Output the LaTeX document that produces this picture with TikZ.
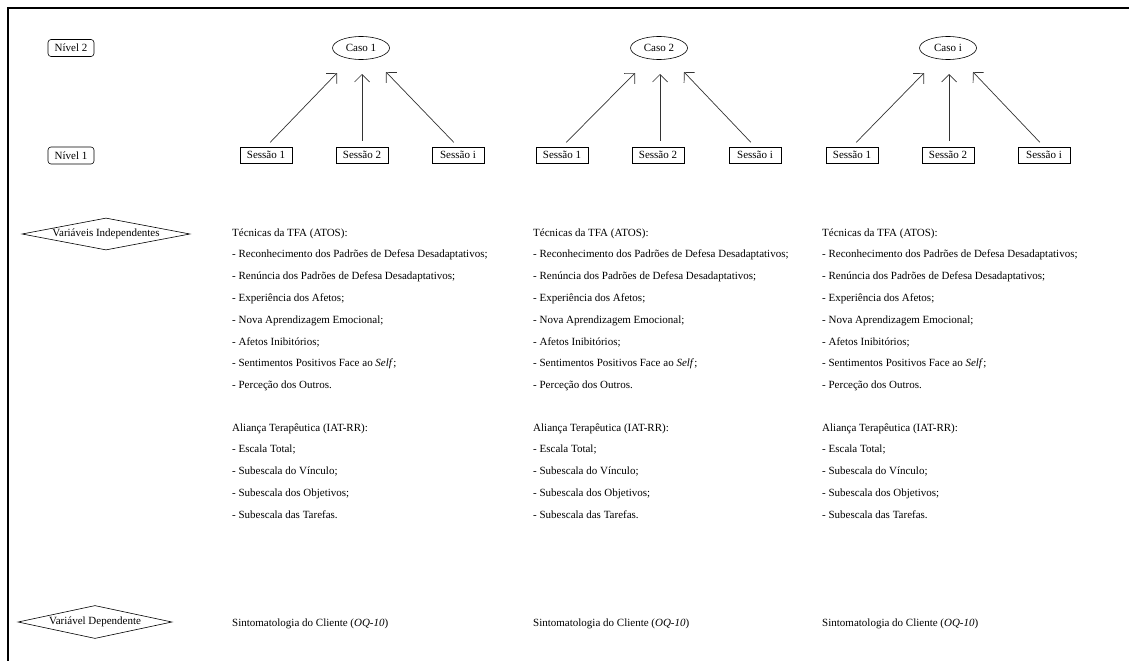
\documentclass[tikz,border=0pt]{standalone}
\usepackage{fontspec}
\setmainfont{Liberation Serif}
\usetikzlibrary{shapes.geometric,arrows.meta,calc}
\tikzset{
  fnt/.style={font=\fontsize{11}{13}\selectfont},
  lvl/.style={draw=black, line width=0.6pt, rounded corners=3pt, minimum width=46pt, minimum height=17pt, inner sep=0pt, fnt},
  caso/.style={draw=black, line width=0.6pt, ellipse, minimum width=57pt, minimum height=23pt, inner sep=0pt, fnt},
  sess/.style={draw=black, line width=0.6pt, minimum width=52pt, minimum height=16pt, inner sep=0pt, fnt},
  varbox/.style={draw=black, line width=0.6pt, diamond, shape aspect=5.25, inner sep=0pt, fnt},
  txt/.style={anchor=base west, inner sep=0pt, fnt},
  arr/.style={-{Straight Barb[length=7.5pt,width=15pt]}, line width=0.7pt, draw=black!80, shorten <=6pt}
}
\begin{document}
\begin{tikzpicture}[x=1pt,y=-1pt]
\useasboundingbox (0,0) rectangle (1129,661);
\draw[line width=2pt] (1129,8) -- (8,8) -- (8,661);

\node[lvl] (n2) at (71,48) {Nível 2};
\node[lvl] (n1) at (71,155.5) {Nível 1};
\node[varbox, minimum width=168pt, minimum height=32pt] (vi) at (106,234) {Variáveis Independentes};
\node[varbox, minimum width=154pt, minimum height=33pt] (vd) at (95,622) {Variável Dependente};

\foreach \i/\lab/\cx/\a/\b/\c/\tx in {1/1/361/266/362/458/232, 2/2/659/562/658/755/533, 3/i/948/852/948/1044/822}{
  \node[caso] (c\i) at (\cx,48) {Caso \lab};
  \node[sess] (s\i a) at (\a,155) {Sessão 1};
  \node[sess] (s\i b) at (\b,155) {Sessão 2};
  \node[sess] (s\i c) at (\c,155) {Sessão i};
  \coordinate (t\i a) at ($(c\i)+(-24,25)$);
  \coordinate (t\i b) at ($(c\i)+(1,26)$);
  \coordinate (t\i c) at ($(c\i)+(25,24)$);
  \draw[arr] (s\i a.north) -- (t\i a);
  \draw[arr] (s\i b.north -| t\i b) -- (t\i b);
  \draw[arr] (s\i c.north) -- (t\i c);

  \node[txt] (h\i) at (\tx,236) {Técnicas da TFA (ATOS):};
  \node[txt] (a\i 1) at (\tx,257) {- Reconhecimento dos Padrões de Defesa Desadaptativos;};
  \node[txt] (a\i 2) at (\tx,279) {- Renúncia dos Padrões de Defesa Desadaptativos;};
  \node[txt] (a\i 3) at (\tx,301) {- Experiência dos Afetos;};
  \node[txt] (a\i 4) at (\tx,323) {- Nova Aprendizagem Emocional;};
  \node[txt] (a\i 5) at (\tx,345) {- Afetos Inibitórios;};
  \node[txt] (a\i 6) at (\tx,366) {- Sentimentos Positivos Face ao \textit{Self};};
  \node[txt] (a\i 7) at (\tx,388) {- Perceção dos Outros.};

  \node[txt] (g\i) at (\tx,431) {Aliança Terapêutica (IAT-RR):};
  \node[txt] (b\i 1) at (\tx,452) {- Escala Total;};
  \node[txt] (b\i 2) at (\tx,474) {- Subescala do Vínculo;};
  \node[txt] (b\i 3) at (\tx,496) {- Subescala dos Objetivos;};
  \node[txt] (b\i 4) at (\tx,518) {- Subescala das Tarefas.};

  \node[txt] (d\i) at (\tx,626) {Sintomatologia do Cliente (\textit{OQ-10})};
}
\end{tikzpicture}
\end{document}
